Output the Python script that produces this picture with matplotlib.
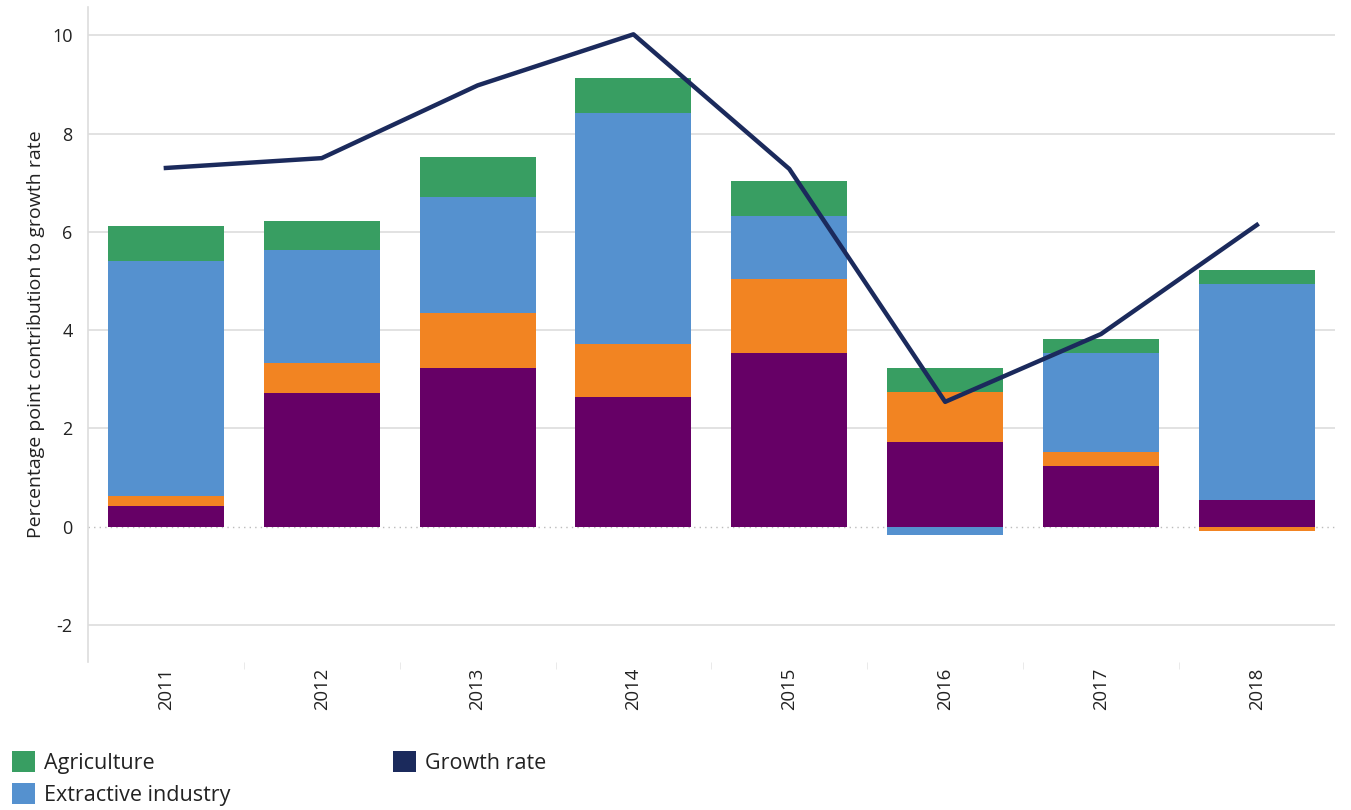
import numpy as np
import matplotlib.pyplot as plt
from matplotlib.patches import Patch

plt.rcParams['font.family'] = ['Open Sans', 'DejaVu Sans']

# Data
years = ['2011', '2012', '2013', '2014', '2015', '2016', '2017', '2018']
other = [0.42, 2.72, 3.23, 2.64, 3.54, 1.73, 1.24, 0.55]      # purple
manufacturing = [0.2, 0.61, 1.12, 1.08, 1.50, 1.01, 0.28, -0.09]  # orange
extractive = [4.78, 2.30, 2.36, 4.69, 1.28, -0.16, 2.02, 4.39]
agriculture = [0.71, 0.59, 0.81, 0.72, 0.71, 0.49, 0.28, 0.28]
growth = [7.3, 7.5, 8.98, 10.02, 7.28, 2.54, 3.92, 6.14]

col_other = '#660066'
col_manu = '#f28422'
col_extr = '#5591cf'
col_agri = '#389e62'
col_growth = '#1b2a5c'

fig = plt.figure(figsize=(13.51, 8.10), dpi=100)
ax = fig.add_axes([0.0651, 0.183, 0.9229, 0.808])

x = np.arange(len(years))
w = 0.745

# stack positives up and negatives down separately
pos = np.zeros(len(years))
neg = np.zeros(len(years))
for vals, col in [(other, col_other), (manufacturing, col_manu),
                  (extractive, col_extr), (agriculture, col_agri)]:
    vals = np.array(vals)
    base = np.where(vals >= 0, pos, neg)
    ax.bar(x, vals, w, bottom=base, color=col, zorder=2)
    pos = pos + np.where(vals >= 0, vals, 0)
    neg = neg + np.where(vals < 0, vals, 0)

ax.plot(x, growth, color=col_growth, lw=3.2, zorder=3)

ax.set_xlim(-0.5, 7.5)
ax.set_ylim(-2.75, 10.57)
ax.set_yticks([-2, 0, 2, 4, 6, 8, 10])
ax.set_yticklabels(['-2', '0', '2', '4', '6', '8', '10'], fontsize=13, color='#222222')
ax.set_xticks(x)
ax.set_xticklabels(years, rotation=90, fontsize=13.3, color='#222222')
ax.set_xticks(np.arange(0.5, 7, 1), minor=True)
ax.tick_params(axis='x', which='major', length=0, pad=4)
ax.tick_params(axis='x', which='minor', length=5, color='#e6e6e6')
ax.tick_params(axis='y', length=0, pad=11)

for yv in [-2, 2, 4, 6, 8, 10]:
    ax.axhline(yv, color='#dddddd', lw=1.2, zorder=0)
ax.axhline(0, color='#bbbbbb', lw=1, ls=(0, (1, 3)), zorder=1)

for s in ['top', 'right', 'bottom']:
    ax.spines[s].set_visible(False)
ax.spines['left'].set_color('#dddddd')
ax.spines['left'].set_linewidth(1.2)

ax.set_ylabel('Percentage point contribution to growth rate', fontsize=14, color='#222222', labelpad=5)

leg_kw = dict(loc='upper left', frameon=False, fontsize=15.5, handlelength=1.05,
              handleheight=1.1, handletextpad=0.45, labelspacing=0.45,
              borderaxespad=0, borderpad=0, labelcolor='#222222')
fig.legend(handles=[Patch(facecolor=col_agri, label='Agriculture'),
                    Patch(facecolor=col_extr, label='Extractive industry')],
           bbox_to_anchor=(12 / 1351, 1 - 751 / 810), **leg_kw)
fig.legend(handles=[Patch(facecolor=col_growth, label='Growth rate')],
           bbox_to_anchor=(393 / 1351, 1 - 751 / 810), **leg_kw)

fig.savefig('out.png', dpi=100)
